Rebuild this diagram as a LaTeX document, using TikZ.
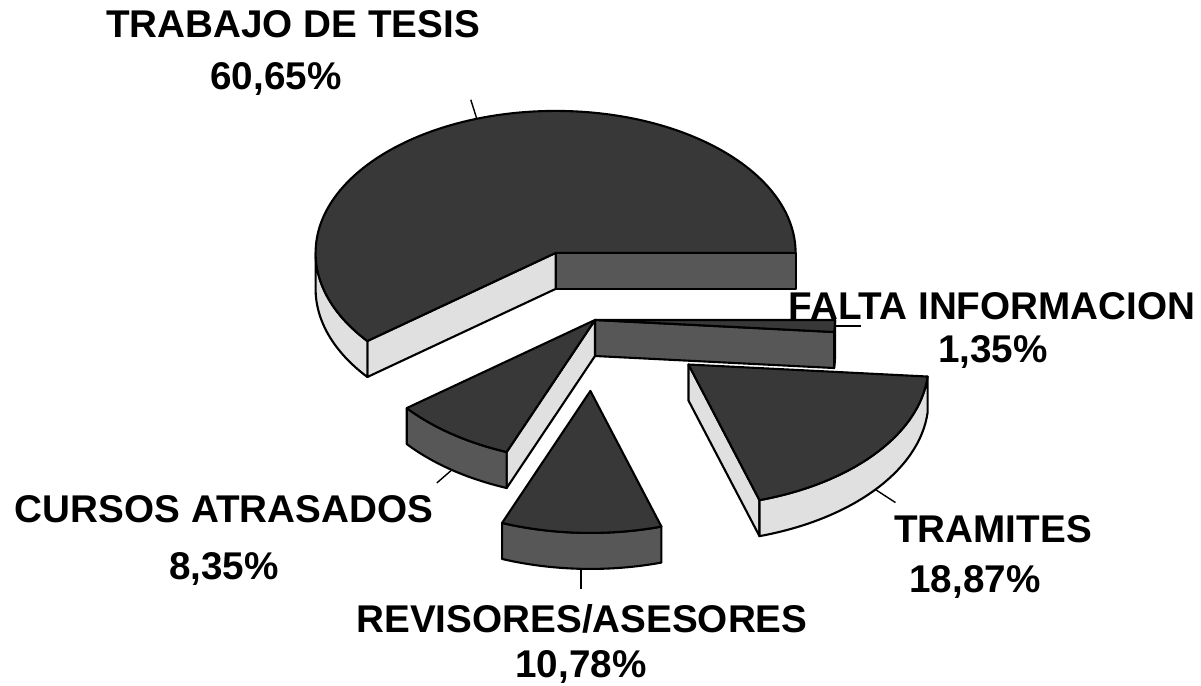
\documentclass[tikz,border=0pt]{standalone}
\usepackage{fontspec}
\setmainfont{Liberation Sans}
\usepackage{tikz}
\usetikzlibrary{calc}
\def\rx{240}
\def\ry{142}
\def\depth{36}
\def\ex{120}
\def\ey{71}
\tikzset{
  topface/.style={draw=black, fill=black!78, line width=1.2pt, line join=round},
  darkwall/.style={draw=black, fill=black!66, line width=1.2pt, line join=round},
  lightwall/.style={draw=black, fill=black!12, line width=1.2pt, line join=round},
  leader/.style={black, line width=0.8pt},
  lbl/.style={anchor=base, inner sep=0pt, font=\fontsize{22}{26}\selectfont\bfseries}
}

\begin{document}
\begin{tikzpicture}[x=0.02cm, y=0.02cm]
\useasboundingbox (0,0) rectangle (1201,686);

\begin{scope}[shift={(595,366)}]

% Trabajo de tesis
\begin{scope}[shift={({\ex*cos(109.17)},{\ey*sin(109.17)})}]
\draw[darkwall] (0,0) -- ({\rx*cos(0)},{\ry*sin(0)}) -- ++(0,-\depth) -- (0,-\depth) -- cycle;
\draw[lightwall] (0,0) -- ({\rx*cos(218.34)},{\ry*sin(218.34)}) -- ++(0,-\depth) -- (0,-\depth) -- cycle;
\draw[lightwall] ({\rx*cos(180)},{\ry*sin(180)}) arc[start angle=180, end angle=218.34, x radius=\rx, y radius=\ry] -- ++(0,-\depth) arc[start angle=218.34, end angle=180, x radius=\rx, y radius=\ry] -- cycle;
\draw[topface] (0,0) -- ({\rx*cos(0)},{\ry*sin(0)}) arc[start angle=0, end angle=218.34, x radius=\rx, y radius=\ry] -- cycle;
\coordinate (tesisrim) at ({\rx*cos(109.17)},{\ry*sin(109.17)});
\end{scope}

% Falta informacion
\draw[darkwall] (0,0) -- ({\rx*cos(-4.86)},{\ry*sin(-4.86)}) -- ++(0,-\depth) -- (0,-\depth) -- cycle;
\draw[darkwall] ({\rx*cos(0)},{\ry*sin(0)}) arc[start angle=0, end angle=-4.86, x radius=\rx, y radius=\ry] -- ++(0,-\depth) arc[start angle=-4.86, end angle=0, x radius=\rx, y radius=\ry] -- cycle;
\draw[topface] (0,0) -- ({\rx*cos(0)},{\ry*sin(0)}) arc[start angle=0, end angle=-4.86, x radius=\rx, y radius=\ry] -- cycle;
\coordinate (faltarim) at ({\rx*cos(-2.43)},{\ry*sin(-2.43)});

% Cursos atrasados
\draw[lightwall] (0,0) -- ({\rx*cos(-111.6)},{\ry*sin(-111.6)}) -- ++(0,-\depth) -- (0,-\depth) -- cycle;
\draw[darkwall] ({\rx*cos(-141.66)},{\ry*sin(-141.66)}) arc[start angle=-141.66, end angle=-111.6, x radius=\rx, y radius=\ry] -- ++(0,-\depth) arc[start angle=-111.6, end angle=-141.66, x radius=\rx, y radius=\ry] -- cycle;
\draw[topface] (0,0) -- ({\rx*cos(-111.6)},{\ry*sin(-111.6)}) arc[start angle=-111.6, end angle=-141.66, x radius=\rx, y radius=\ry] -- cycle;
\coordinate (cursosrim) at ({\rx*cos(-126.63)},{\ry*sin(-126.63)-\depth});

% Tramites
\begin{scope}[shift={({\ex*cos(-38.83)},{\ey*sin(-38.83)})}]
\draw[lightwall] (0,0) -- ({\rx*cos(-72.79)},{\ry*sin(-72.79)}) -- ++(0,-\depth) -- (0,-\depth) -- cycle;
\draw[lightwall] ({\rx*cos(-72.79)},{\ry*sin(-72.79)}) arc[start angle=-72.79, end angle=-4.86, x radius=\rx, y radius=\ry] -- ++(0,-\depth) arc[start angle=-4.86, end angle=-72.79, x radius=\rx, y radius=\ry] -- cycle;
\draw[topface] (0,0) -- ({\rx*cos(-4.86)},{\ry*sin(-4.86)}) arc[start angle=-4.86, end angle=-72.79, x radius=\rx, y radius=\ry] -- cycle;
\coordinate (tramrim) at ({\rx*cos(-38.83)},{\ry*sin(-38.83)-\depth});
\end{scope}

% Revisores/asesores
\begin{scope}[shift={({\ex*cos(-92.2)},{\ey*sin(-92.2)})}]
\draw[darkwall] ({\rx*cos(-111.6)},{\ry*sin(-111.6)}) arc[start angle=-111.6, end angle=-72.79, x radius=\rx, y radius=\ry] -- ++(0,-\depth) arc[start angle=-72.79, end angle=-111.6, x radius=\rx, y radius=\ry] -- cycle;
\draw[topface] (0,0) -- ({\rx*cos(-72.79)},{\ry*sin(-72.79)}) arc[start angle=-72.79, end angle=-111.6, x radius=\rx, y radius=\ry] -- cycle;
\coordinate (revrim) at ({\rx*cos(-92.2)},{\ry*sin(-92.2)-\depth});
\end{scope}

\end{scope}

% Labels
\node[lbl] (tesis) at (293,648) {TRABAJO DE TESIS};
\node[lbl] (tesisp) at (276,596) {60,65\%};
\node[lbl] (falta) at (992,366) {FALTA INFORMACION};
\node[lbl] (faltap) at (993,323) {1,35\%};
\node[lbl] (tram) at (993,143) {TRAMITES};
\node[lbl] (tramp) at (975,93) {18,87\%};
\node[lbl] (cursos) at (224,163) {CURSOS ATRASADOS};
\node[lbl] (cursosp) at (224,106) {8,35\%};
\node[lbl] (rev) at (582,53) {REVISORES/ASESORES};
\node[lbl] (revp) at (581,8) {10,78\%};

% Leaders
\coordinate (tesistip) at ($(tesisrim)+(-6,19)$);
\coordinate (faltatip) at ($(faltarim)+(26,0)$);
\coordinate (tramtip) at ($(tramrim)+(20,-13)$);
\coordinate (cursostip) at ($(cursosrim)+(-15,-13)$);
\coordinate (revtip) at ($(revrim)+(0,-20)$);
\draw[leader] (tesisrim) -- (tesistip);
\draw[leader] (faltarim) -- (faltatip);
\draw[leader] (tramrim) -- (tramtip);
\draw[leader] (cursosrim) -- (cursostip);
\draw[leader] (revrim) -- (revtip);

\end{tikzpicture}
\end{document}
